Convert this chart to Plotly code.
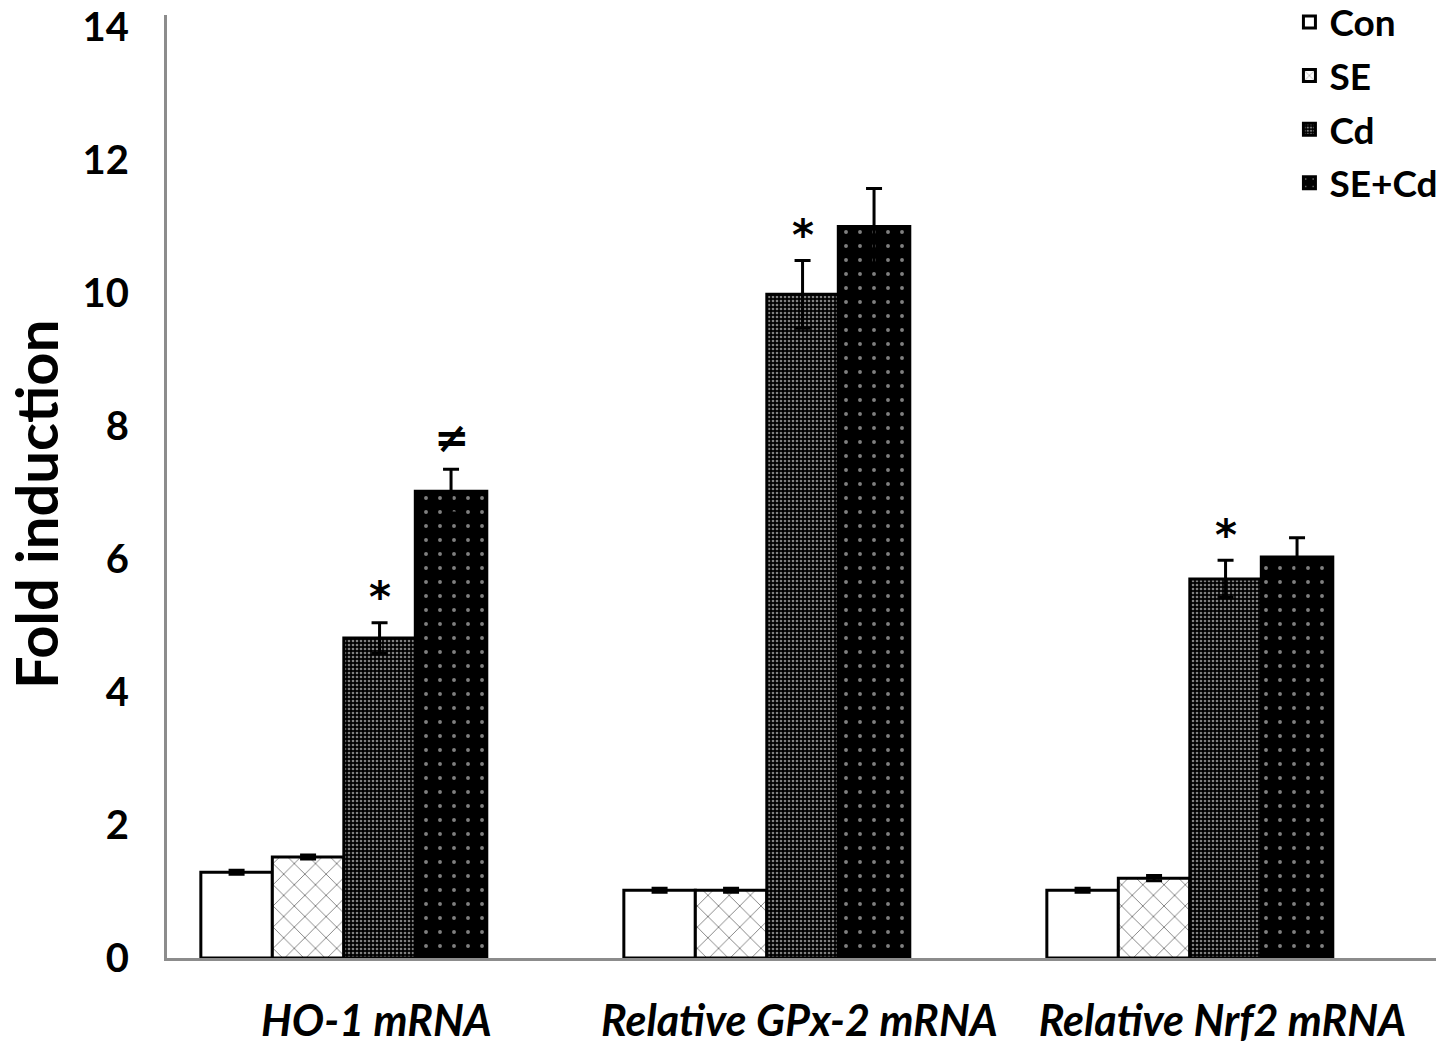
import plotly.graph_objects as go

# data
categories = ["HO-1 mRNA", "Relative GPx-2 mRNA", "Relative Nrf2 mRNA"]
groups = ["Con", "SE", "Cd", "SE+Cd"]

con_values = [1.29, 1.02, 1.02]
se_values = [1.52, 1.02, 1.20]
cd_values = [4.81, 9.98, 5.70]
secd_values = [7.02, 11.00, 6.03]

con_errors = [0.03, 0.03, 0.03]
se_errors = [0.03, 0.03, 0.04]
cd_errors = [0.23, 0.51, 0.28]
secd_errors = [0.33, 0.57, 0.29]

# significance marks: (category index, group index, symbol)
marks = [(0, 2, "*"), (0, 3, "≠"), (1, 2, "*"), (2, 2, "*")]

y_ticks = [0, 2, 4, 6, 8, 10, 12, 14]

FONT = "Lato"
BAR_GAP = 0.324
LABEL_SHIFT = 0.077

# the page body keeps its default 8px margin, so the figure is 16px smaller
FIG_W, FIG_H = 1430, 1039

patterns = [
    dict(shape="", bgcolor="white", fgcolor="black"),
    dict(shape="x", bgcolor="white", fgcolor="black", size=15, solidity=0.12),
    dict(shape=".", bgcolor="black", fgcolor="white", size=4, solidity=0.35),
    dict(shape=".", bgcolor="black", fgcolor="white", size=14, solidity=0.06),
]

values = [con_values, se_values, cd_values, secd_values]
errors = [con_errors, se_errors, cd_errors, secd_errors]
x_pos = list(range(len(categories)))

fig = go.Figure()

for name, vals, errs, pattern in zip(groups, values, errors, patterns):
    fig.add_trace(
        go.Bar(
            x=x_pos,
            y=vals,
            name=name,
            legendgroup=name,
            marker=dict(
                color=pattern["bgcolor"],
                line=dict(color="black", width=3),
                pattern=pattern,
            ),
            error_y=dict(
                type="data",
                array=errs,
                visible=True,
                color="black",
                thickness=3,
                width=8,
            ),
        )
    )

bar_width = (1 - BAR_GAP) / len(groups)
annotations = []
for cat_idx, grp_idx, symbol in marks:
    x = cat_idx + (grp_idx - (len(groups) - 1) / 2) * bar_width
    top = values[grp_idx][cat_idx] + errors[grp_idx][cat_idx]
    annotations.append(
        dict(
            x=x,
            y=top + 0.53,
            xref="x",
            yref="y",
            text=f"<b>{symbol}</b>",
            showarrow=False,
            yanchor="middle",
            yshift=-10 if symbol == "*" else -4,
            font=dict(family="DejaVu Sans", size=42, color="black"),
        )
    )

annotations.append(
    dict(
        text="<b>Fold induction</b>",
        x=-(167 - 35) / 1269,
        y=(958 - 505) / 943,
        xref="paper",
        yref="paper",
        xanchor="center",
        yanchor="middle",
        textangle=-90,
        showarrow=False,
        font=dict(family=FONT, size=58, color="black"),
    )
)

fig.update_layout(
    width=FIG_W,
    height=FIG_H,
    margin=dict(l=159, r=2, t=7, b=89, autoexpand=False),
    plot_bgcolor="white",
    paper_bgcolor="white",
    barmode="group",
    bargap=BAR_GAP,
    bargroupgap=0,
    showlegend=True,
    legend=dict(
        x=0.8845,
        y=1.025,
        xanchor="left",
        yanchor="top",
        bgcolor="rgba(0,0,0,0)",
        font=dict(family=FONT, size=37, color="black", weight="bold"),
        tracegroupgap=2.5,
        itemwidth=30,
    ),
    xaxis=dict(
        range=[-0.418, 2.582],
        tickvals=[x + LABEL_SHIFT for x in x_pos],
        ticktext=[f"<b><i>{c}</i></b>" for c in categories],
        tickfont=dict(family=FONT, size=43, color="black"),
        showline=True,
        linecolor="#8c8c8c",
        linewidth=3,
        showgrid=False,
        zeroline=False,
        ticks="",
        ticklabelstandoff=23,
        ticklabeloverflow="allow",
        automargin=False,
    ),
    yaxis=dict(
        range=[0, 14.18],
        tickvals=y_ticks,
        ticktext=[f"<b>{t}</b>" for t in y_ticks],
        tickfont=dict(family=FONT, size=40, color="black"),
        showline=True,
        linecolor="#8c8c8c",
        linewidth=3,
        showgrid=False,
        zeroline=False,
        ticks="",
        ticklabelstandoff=27,
        ticklabeloverflow="allow",
        automargin=False,
    ),
    annotations=annotations,
)

fig.write_html("out.html")
